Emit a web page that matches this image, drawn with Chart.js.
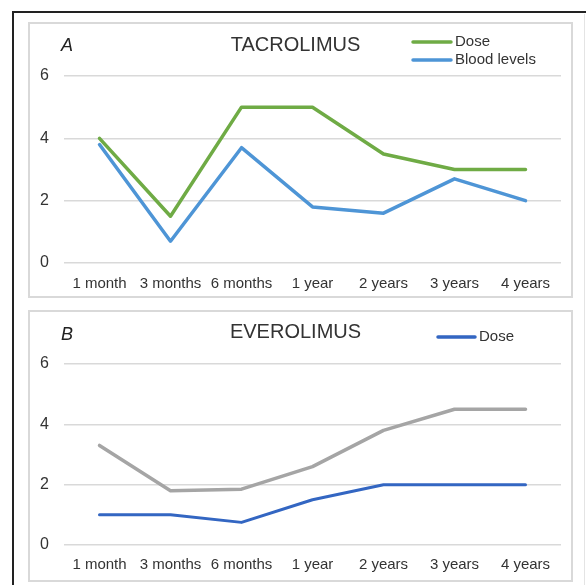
<!DOCTYPE html>
<html>
<head>
<meta charset="utf-8">
<script src="https://cdn.jsdelivr.net/npm/chart.js@4/dist/chart.umd.min.js"></script>
<style>
  body { margin: 0; background: #fff; width: 586px; height: 585px; overflow: hidden; position: relative; }
  #frame { position: absolute; left: 12px; top: 11px; width: 600px; height: 600px; border-left: 2px solid #222; border-top: 2px solid #222; }
  .panel { position: absolute; left: 28px; width: 541px; border: 2px solid #d9d9d9; background: #fff; }
  #p1 { top: 22px; height: 272px; }
  #p2 { top: 310px; height: 268px; }
  .panel canvas { display: block; }
  #vline { position: absolute; left: 584px; top: 14px; width: 1px; height: 580px; background: #e4e4e4; }
</style>
</head>
<body>
<div id="frame"></div>
<div id="vline"></div>
<div class="panel" id="p1"><canvas id="tacChart" width="541" height="272"></canvas></div>
<div class="panel" id="p2"><canvas id="eveChart" width="541" height="268"></canvas></div>
<script>
const periods = ['1 month', '3 months', '6 months', '1 year', '2 years', '3 years', '4 years'];
const tacDose = [4, 1.5, 5, 5, 3.5, 3, 3];
const tacBlood = [3.8, 0.7, 3.7, 1.8, 1.6, 2.7, 2.0];
const eveLevels = [3.3, 1.8, 1.85, 2.6, 3.8, 4.5, 4.5];
const eveDose = [1, 1, 0.75, 1.5, 2, 2, 2];
const yTicks = [0, 2, 4, 6];

const fontFam = 'Arial, "Liberation Sans", sans-serif';

// draws the panel letter and a right-hand stacked legend
const panelDecor = {
    id: 'panelDecor',
    afterDraw(chart, args, opts) {
        const ctx = chart.ctx;
        ctx.save();
        ctx.fillStyle = '#222';
        ctx.font = 'italic 18px ' + fontFam;
        ctx.textBaseline = 'middle';
        ctx.textAlign = 'left';
        ctx.fillText(opts.letter, opts.letterX, opts.letterY);
        ctx.font = '15px ' + fontFam;
        opts.items.forEach((it, i) => {
            const ds = chart.data.datasets[it];
            const y = opts.legendY + i * opts.rowGap;
            ctx.strokeStyle = ds.borderColor;
            ctx.lineWidth = 3.5;
            ctx.lineCap = 'round';
            ctx.beginPath();
            ctx.moveTo(opts.legendX, y);
            ctx.lineTo(opts.legendX + opts.lineLen, y);
            ctx.stroke();
            ctx.fillStyle = '#333';
            ctx.fillText(ds.label, opts.legendX + opts.lineLen + 4, y);
        });
        ctx.restore();
    }
};

function makeOptions(title, titlePad, xHeight, xPad, decor) {
    return {
        responsive: false,
        animation: false,
        layout: { padding: { left: 0, right: 10, top: 0, bottom: 0 } },
        elements: {
            point: { radius: 0 },
            line: { borderWidth: 3.5, tension: 0, borderCapStyle: 'round', borderJoinStyle: 'round' }
        },
        scales: {
            x: {
                offset: true,
                grid: { display: false },
                border: { display: false },
                ticks: { color: '#333', font: { size: 15, family: fontFam }, padding: xPad, maxRotation: 0, autoSkip: false },
                afterFit: (axis) => { axis.height = xHeight; }
            },
            y: {
                min: 0,
                max: 6,
                afterBuildTicks: (axis) => { axis.ticks = yTicks.map(v => ({ value: v })); },
                grid: { color: '#d9d9d9', lineWidth: 1.5, drawTicks: false },
                border: { display: false },
                ticks: { color: '#333', font: { size: 16, family: fontFam }, padding: 15 },
                afterFit: (axis) => { axis.width = 34; }
            }
        },
        plugins: {
            legend: { display: false },
            tooltip: { enabled: false },
            title: {
                display: true,
                text: title,
                color: '#333',
                font: { size: 20, family: fontFam, weight: 'normal' },
                padding: titlePad
            },
            panelDecor: decor
        }
    };
}

new Chart(document.getElementById('tacChart'), {
    type: 'line',
    data: {
        labels: periods,
        datasets: [
            { label: 'Dose', data: tacDose, borderColor: '#6fab45' },
            { label: 'Blood levels', data: tacBlood, borderColor: '#4e95d6' }
        ]
    },
    options: makeOptions('TACROLIMUS', { top: 9, bottom: 19 }, 33, 4,
        { letter: 'A', letterX: 31, letterY: 22, items: [0, 1], legendX: 383, legendY: 18, rowGap: 18, lineLen: 38 }),
    plugins: [panelDecor]
});

new Chart(document.getElementById('eveChart'), {
    type: 'line',
    data: {
        labels: periods,
        datasets: [
            { label: 'Dose', data: eveDose, borderColor: '#3366c2', borderWidth: 3 },
            { label: 'Levels', data: eveLevels, borderColor: '#a5a5a5' }
        ]
    },
    options: makeOptions('EVEROLIMUS', { top: 8, bottom: 20 }, 35, 3,
        { letter: 'B', letterX: 31, letterY: 23, items: [0], legendX: 408, legendY: 25, rowGap: 18, lineLen: 37 }),
    plugins: [panelDecor]
});
</script>
</body>
</html>
